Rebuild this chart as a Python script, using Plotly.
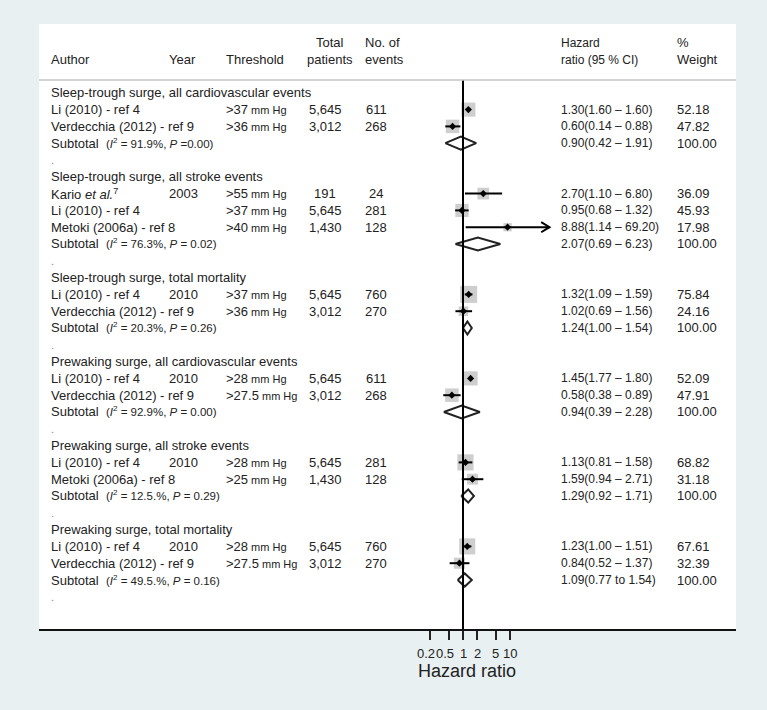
import math
import plotly.graph_objects as go

W, H = 767, 710
FONT = "Arial, Liberation Sans, sans-serif"
TXT = "#222222"
BG = "#e8f0f1"

# ---------------- data ----------------
group_titles = [
    "Sleep-trough surge, all cardiovascular events",
    "Sleep-trough surge, all stroke events",
    "Sleep-trough surge, total mortality",
    "Prewaking surge, all cardiovascular events",
    "Prewaking surge, all stroke events",
    "Prewaking surge, total mortality",
]

study_group = [0, 0, 1, 1, 1, 2, 2, 3, 3, 4, 4, 5, 5]
study_author = [
    "Li (2010) - ref 4", "Verdecchia (2012) - ref 9",
    "Kario <i>et al.</i><sup>7</sup>", "Li (2010) - ref 4", "Metoki (2006a) - ref 8",
    "Li (2010) - ref 4", "Verdecchia (2012) - ref 9",
    "Li (2010) - ref 4", "Verdecchia (2012) - ref 9",
    "Li (2010) - ref 4", "Metoki (2006a) - ref 8",
    "Li (2010) - ref 4", "Verdecchia (2012) - ref 9",
]
study_year = ["", "", "2003", "", "", "2010", "", "2010", "", "2010", "", "2010", ""]
study_threshold = [">37", ">36", ">55", ">37", ">40", ">37", ">36",
                   ">28", ">27.5", ">28", ">25", ">28", ">27.5"]
study_patients = ["5,645", "3,012", "191", "5,645", "1,430", "5,645", "3,012",
                  "5,645", "3,012", "5,645", "1,430", "5,645", "3,012"]
study_events = ["611", "268", "24", "281", "128", "760", "270",
                "611", "268", "281", "128", "760", "270"]
# hazard ratios and confidence limits as drawn in the plot
study_hr = [1.30, 0.60, 2.70, 0.95, 8.88, 1.32, 1.02, 1.45, 0.58, 1.13, 1.59, 1.23, 0.84]
study_lo = [1.30, 0.42, 1.10, 0.68, 1.14, 1.09, 0.69, 1.45, 0.38, 0.81, 0.94, 1.00, 0.52]
study_hi = [1.30, 0.88, 6.80, 1.32, 69.20, 1.59, 1.56, 1.45, 0.89, 1.58, 2.71, 1.51, 1.37]
study_ci_text = [
    "1.30(1.60 – 1.60)", "0.60(0.14 – 0.88)",
    "2.70(1.10 – 6.80)", "0.95(0.68 – 1.32)", "8.88(1.14 – 69.20)",
    "1.32(1.09 – 1.59)", "1.02(0.69 – 1.56)",
    "1.45(1.77 – 1.80)", "0.58(0.38 – 0.89)",
    "1.13(0.81 – 1.58)", "1.59(0.94 – 2.71)",
    "1.23(1.00 – 1.51)", "0.84(0.52 – 1.37)",
]
study_weight = ["52.18", "47.82", "36.09", "45.93", "17.98", "75.84", "24.16",
                "52.09", "47.91", "68.82", "31.18", "67.61", "32.39"]

sub_i2 = ["91.9%", "76.3%", "20.3%", "92.9%", "12.5.%", "49.5.%"]
sub_p = ["=0.00", "= 0.02", "= 0.26", "= 0.00", "= 0.29", "= 0.16"]
sub_hr = [0.90, 2.07, 1.24, 0.94, 1.29, 1.09]
sub_lo = [0.42, 0.69, 1.00, 0.39, 0.92, 0.77]
sub_hi = [1.91, 6.23, 1.54, 2.28, 1.71, 1.54]
sub_ci_text = ["0.90(0.42 – 1.91)", "2.07(0.69 – 6.23)", "1.24(1.00 – 1.54)",
               "0.94(0.39 – 2.28)", "1.29(0.92 – 1.71)", "1.09(0.77 to 1.54)"]
sub_weight = ["100.00"] * 6

tick_vals = [0.2, 0.5, 1, 2, 5, 10]
tick_text = ["0.2", "0.5", "1", "2", "5", "10"]
null_value = 1

# ---------------- layout geometry ----------------
ROW0_PX, ROW_STEP = 92.8, 16.8
PANEL_L, PANEL_R, PANEL_T, PANEL_B = 39, 736, 24, 630
HEAD_LINE_PX = 80
X_ONE_PX, PX_PER_DEC = 463, 47
XDOM_L, XDOM_R = 400, 565


def px_to_row(px):
    return (px - ROW0_PX) / ROW_STEP


def py(px):
    return 1 - px / H


# assign rows
study_row = []
sub_row = []
title_row = []
dot_row = []
r = 0
for g in range(len(group_titles)):
    title_row.append(r)
    r += 1
    for i, sg in enumerate(study_group):
        if sg == g:
            study_row.append(r)
            r += 1
    sub_row.append(r)
    r += 1
    dot_row.append(r)
    r += 1

fig = go.Figure()

# weight boxes
fig.add_trace(go.Scatter(
    x=study_hr, y=study_row, mode="markers",
    marker=dict(symbol="square", color="#b9b9b9",
                size=[1.95 * math.sqrt(float(w)) for w in study_weight],
                line=dict(width=0)),
    hoverinfo="skip", showlegend=False))

# CI lines
cx, cy = [], []
for lo, hi, rr in zip(study_lo, study_hi, study_row):
    cx += [lo, hi, None]
    cy += [rr, rr, None]
fig.add_trace(go.Scatter(x=cx, y=cy, mode="lines",
                         line=dict(color="black", width=2),
                         hoverinfo="skip", showlegend=False))

# arrows for CIs beyond the largest tick
ax_, ay_ = [], []
for hi, rr in zip(study_hi, study_row):
    if hi > max(tick_vals):
        ax_ += [hi / 1.5, hi, hi / 1.5, None]
        ay_ += [rr - 0.3, rr, rr + 0.3, None]
fig.add_trace(go.Scatter(x=ax_, y=ay_, mode="lines",
                         line=dict(color="black", width=2),
                         hoverinfo="skip", showlegend=False))

# point estimates
fig.add_trace(go.Scatter(
    x=study_hr, y=study_row, mode="markers",
    marker=dict(symbol="diamond", color="black", size=5.5, line=dict(width=0)),
    hoverinfo="skip", showlegend=False))

# subtotal diamonds
for hr, lo, hi, rr in zip(sub_hr, sub_lo, sub_hi, sub_row):
    fig.add_trace(go.Scatter(
        x=[lo, hr, hi, hr, lo], y=[rr, rr - 0.39, rr, rr + 0.39, rr],
        mode="lines", fill="toself", fillcolor="white",
        line=dict(color="#222222", width=2),
        hoverinfo="skip", showlegend=False))

# null line
fig.add_trace(go.Scatter(
    x=[null_value, null_value], y=[px_to_row(HEAD_LINE_PX), px_to_row(PANEL_B)],
    mode="lines", line=dict(color="black", width=2),
    hoverinfo="skip", showlegend=False, cliponaxis=False))

ann = []


def txt(xpx, y, text, size=13, anchor="left", yref="y", color=TXT):
    ann.append(dict(x=xpx / W, xref="paper", y=y, yref=yref, text=text,
                    showarrow=False, xanchor=anchor, yanchor="middle",
                    borderpad=0,
                    font=dict(size=size, color=color, family=FONT)))


# headers
h1, h2 = py(42.7), py(59.5)
txt(50, h2, "Author", yref="paper")
txt(168, h2, "Year", yref="paper")
txt(225, h2, "Threshold", yref="paper")
txt(330, h1, "Total", anchor="center", yref="paper")
txt(330, h2, "patients", anchor="center", yref="paper")
txt(364, h1, "No. of", yref="paper")
txt(364, h2, "events", yref="paper")
txt(560, h1, "Hazard", size=12, yref="paper")
txt(560, h2, "ratio (95 % CI)", size=12, yref="paper")
txt(676, h1, "%", yref="paper")
txt(676, h2, "Weight", yref="paper")

for g, t in enumerate(group_titles):
    txt(50, title_row[g], t)
    txt(50, sub_row[g],
        "Subtotal\u00a0\u00a0<span style='font-size:11.5px'>(<i>I</i><sup>2</sup> = "
        + sub_i2[g] + ", <i>P</i> " + sub_p[g] + ")</span>")
    txt(560, sub_row[g], sub_ci_text[g], size=12)
    txt(676, sub_row[g], sub_weight[g])
    txt(50, dot_row[g], ".", size=11, color="#888888")

for i, rr in enumerate(study_row):
    txt(50, rr, study_author[i])
    if study_year[i]:
        txt(168, rr, study_year[i])
    txt(225, rr, study_threshold[i] + "<span style='font-size:11px'> mm Hg</span>")
    txt(325, rr, study_patients[i], anchor="center")
    txt(376, rr, study_events[i], anchor="center")
    txt(560, rr, study_ci_text[i], size=12)
    txt(676, rr, study_weight[i])

# tick labels (labels below 1 nudged left as in the original)
for v, t in zip(tick_vals, tick_text):
    ann.append(dict(x=math.log10(v), xref="x", y=py(653), yref="paper", text=t,
                    showarrow=False, xanchor="center", yanchor="middle",
                    xshift=-4 if v < 1 else 0, borderpad=0,
                    font=dict(size=13, color=TXT, family=FONT)))

# axis title
ann.append(dict(x=467 / W, xref="paper", y=py(671), yref="paper", text="Hazard ratio",
                showarrow=False, xanchor="center", yanchor="middle",
                font=dict(size=18, color=TXT, family=FONT)))

shapes = [
    dict(type="rect", xref="paper", yref="paper", x0=PANEL_L / W, x1=PANEL_R / W,
         y0=py(PANEL_B), y1=py(PANEL_T), fillcolor="white", line=dict(width=0),
         layer="below"),
    dict(type="line", xref="paper", yref="paper", x0=PANEL_L / W, x1=PANEL_R / W,
         y0=py(HEAD_LINE_PX), y1=py(HEAD_LINE_PX), line=dict(color="#c4c4c4", width=1.5)),
    dict(type="line", xref="paper", yref="paper", x0=PANEL_L / W, x1=PANEL_R / W,
         y0=py(PANEL_B), y1=py(PANEL_B), line=dict(color="#111111", width=2)),
]

fig.update_layout(
    width=W, height=H,
    margin=dict(l=0, r=0, t=0, b=0),
    paper_bgcolor=BG,
    plot_bgcolor="rgba(0,0,0,0)",
    showlegend=False,
    annotations=ann,
    shapes=shapes,
    xaxis=dict(
        type="log",
        domain=[XDOM_L / W, XDOM_R / W],
        range=[(XDOM_L - X_ONE_PX) / PX_PER_DEC, (XDOM_R - X_ONE_PX) / PX_PER_DEC],
        tickvals=tick_vals, showticklabels=False,
        ticks="outside", ticklen=9, tickwidth=1.5, tickcolor="#222222",
        showgrid=False, zeroline=False, showline=False,
        fixedrange=True,
    ),
    yaxis=dict(
        domain=[py(PANEL_B), py(PANEL_T)],
        range=[px_to_row(PANEL_B), px_to_row(PANEL_T)],
        visible=False, showgrid=False, zeroline=False, fixedrange=True,
    ),
)

fig.write_html(
    "out.html",
    config={"displayModeBar": False},
    post_script="document.body.style.margin='0';document.body.style.background='" + BG + "';",
)
